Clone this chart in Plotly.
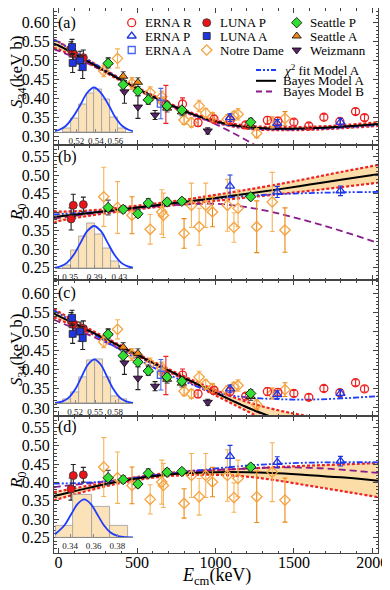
import plotly.graph_objects as go

SERIF = "Liberation Serif"

# ---------------- measured points (E in keV, S34 in keV b, R0) ----------------
erna_r_E = [684, 790, 889, 991, 1093, 1193, 1331, 1398, 1500, 1595, 1691, 1793, 1893, 1950]
erna_r_S = [0.385, 0.386, 0.337, 0.346, 0.343, 0.331, 0.343, 0.341, 0.338, 0.328, 0.351, 0.340, 0.366, 0.350]
erna_r_dS = [0.050, 0.016, 0.010, 0.010, 0.010, 0.008, 0.010, 0.010, 0.008, 0.008, 0.008, 0.008, 0.008, 0.008]

erna_p_E = [1093, 1394, 1797]
erna_p_S = [0.350, 0.335, 0.338]
erna_p_dS = [0.010, 0.010, 0.010]
erna_p_R = [0.471, 0.455, 0.458]
erna_p_dR = [0.030, 0.015, 0.013]

erna_a_E = [652]
erna_a_S = [0.387]
erna_a_dS = [0.040]

luna_p_E = [80, 94, 158]
luna_p_S = [0.530, 0.519, 0.508]
luna_p_dS = [0.020, 0.020, 0.020]
luna_p_R = [0.382, 0.419, 0.421]
luna_p_dR = [0.030, 0.030, 0.020]

luna_a_E = [86, 90, 137, 154]
luna_a_S = [0.536, 0.494, 0.500, 0.483]
luna_a_dS = [0.020, 0.025, 0.025, 0.030]

nd_E = [288, 376, 468, 584, 658, 668, 800, 847, 896, 938, 981, 1076, 1118, 1144, 1263, 1362, 1443]
nd_S = [0.473, 0.506, 0.440, 0.416, 0.405, 0.390, 0.344, 0.337, 0.381, 0.362, 0.351,
        0.346, 0.355, 0.359, 0.309, 0.338, 0.348]
nd_dS = [0.015, 0.025, 0.015, 0.015, 0.015, 0.015, 0.012, 0.012, 0.015, 0.012, 0.012,
         0.012, 0.012, 0.015, 0.012, 0.015, 0.018]
nd_R = [0.442, 0.413, 0.392, 0.354, 0.401, 0.392, 0.343, 0.419, 0.361, 0.419, 0.401,
        0.419, 0.359, 0.411, 0.361, 0.428, 0.352]
nd_dR = [0.080, 0.070, 0.050, 0.040, 0.060, 0.060, 0.040, 0.060, 0.050, 0.060, 0.040,
         0.070, 0.040, 0.050, 0.070, 0.080, 0.060]
# Notre Dame points drawn with the darker error bars in the figure
nd_dark = [0, 0, 1, 0, 0, 0, 1, 0, 0, 0, 1, 0, 0, 0, 1, 0, 1]

sea_E = [316, 412, 506, 572, 692, 786, 1225]
sea_p_S = [0.493, 0.437, 0.420, 0.397, 0.381, 0.370, 0.338]
sea_p_dS = [0.012, 0.012, 0.012, 0.012, 0.010, 0.010, 0.010]
sea_p_R = [0.413, 0.408, 0.396, 0.425, 0.428, 0.430, 0.442]
sea_p_dR = [0.020, 0.010, 0.010, 0.012, 0.010, 0.008, 0.008]
sea_a_S = [0.496, 0.459, 0.443, 0.400, 0.375, 0.365, 0.330]
sea_a_dS = [0.012, 0.012, 0.012, 0.012, 0.010, 0.010, 0.010]

wei_E = [420, 506, 615, 951]
wei_S = [0.418, 0.378, 0.357, 0.315]
wei_dS = [0.030, 0.030, 0.012, 0.008]

# ---------------- fitted curves, sampled on this energy grid ----------------
fit_E = [-30, 0, 200, 400, 600, 800, 1000, 1200, 1400, 1600, 1800, 2036]

bayes_a_a = [0.545, 0.540, 0.495, 0.449, 0.406, 0.368, 0.340, 0.325, 0.321, 0.322, 0.326, 0.333]
band_hi_a = [0.556, 0.550, 0.499, 0.452, 0.409, 0.371, 0.343, 0.329, 0.325, 0.326, 0.330, 0.338]
band_lo_a = [0.534, 0.530, 0.491, 0.446, 0.403, 0.365, 0.337, 0.321, 0.317, 0.318, 0.322, 0.328]
chi2_a = [0.555, 0.549, 0.499, 0.450, 0.405, 0.367, 0.338, 0.323, 0.319, 0.320, 0.324, 0.331]
bayes_b_a = [0.530, 0.526, 0.490, 0.449, 0.407, 0.369, 0.333, 0.290, 0.240, 0.190, 0.140, 0.080]

bayes_a_b = [0.387, 0.389, 0.398, 0.408, 0.418, 0.428, 0.439, 0.450, 0.462, 0.475, 0.488, 0.503]
band_hi_b = [0.403, 0.402, 0.405, 0.413, 0.423, 0.434, 0.447, 0.461, 0.476, 0.492, 0.509, 0.528]
band_lo_b = [0.371, 0.376, 0.391, 0.403, 0.413, 0.422, 0.431, 0.440, 0.449, 0.458, 0.468, 0.480]
chi2_b = [0.394, 0.395, 0.400, 0.408, 0.418, 0.428, 0.437, 0.444, 0.449, 0.452, 0.454, 0.455]
bayes_b_b = [0.383, 0.385, 0.396, 0.406, 0.415, 0.421, 0.423, 0.414, 0.397, 0.375, 0.350, 0.317]

bayes_a_c = [0.548, 0.541, 0.501, 0.460, 0.419, 0.379, 0.340, 0.302, 0.270, 0.240, 0.210, 0.180]
band_hi_c = [0.559, 0.552, 0.506, 0.463, 0.422, 0.383, 0.347, 0.316, 0.294, 0.278, 0.265, 0.250]
band_lo_c = [0.537, 0.532, 0.496, 0.457, 0.416, 0.375, 0.333, 0.292, 0.250, 0.210, 0.170, 0.120]
chi2_c = [0.555, 0.548, 0.499, 0.451, 0.407, 0.370, 0.340, 0.328, 0.323, 0.322, 0.325, 0.331]
bayes_b_c = [0.531, 0.526, 0.490, 0.453, 0.416, 0.378, 0.340, 0.302, 0.264, 0.226, 0.190, 0.140]

bayes_a_d = [0.363, 0.366, 0.386, 0.404, 0.417, 0.425, 0.428, 0.428, 0.425, 0.420, 0.414, 0.405]
band_hi_d = [0.374, 0.376, 0.392, 0.408, 0.421, 0.430, 0.434, 0.438, 0.442, 0.446, 0.449, 0.453]
band_lo_d = [0.351, 0.355, 0.379, 0.399, 0.413, 0.420, 0.421, 0.416, 0.405, 0.391, 0.377, 0.360]
chi2_d = [0.397, 0.397, 0.400, 0.408, 0.419, 0.429, 0.438, 0.446, 0.451, 0.454, 0.455, 0.455]
bayes_b_d = [0.387, 0.389, 0.398, 0.408, 0.419, 0.428, 0.434, 0.438, 0.441, 0.440, 0.435, 0.426]

# ---------------- inset histograms (posterior of the value at E=0) ----------------
hist_a_x = [0.5105, 0.5185, 0.5265, 0.5345, 0.5425, 0.5505, 0.5585, 0.5665]
hist_a_h = [0.09, 0.31, 0.63, 0.87, 0.96, 0.74, 0.33, 0.09]
gauss_a_x = [0.498, 0.502, 0.509, 0.516, 0.524, 0.531, 0.538, 0.545, 0.553, 0.560, 0.567, 0.574, 0.578]
gauss_a_y = [0.020, 0.044, 0.135, 0.325, 0.607, 0.882, 1.000, 0.882, 0.607, 0.325, 0.135, 0.044, 0.020]

hist_b_x = [0.3455, 0.3585, 0.3715, 0.3845, 0.3975, 0.4105, 0.4235]
hist_b_h = [0.08, 0.43, 0.75, 1.06, 0.81, 0.47, 0.16]
gauss_b_x = [0.326, 0.3345, 0.3454, 0.3563, 0.3672, 0.3781, 0.389, 0.3999, 0.4108, 0.4217, 0.4326, 0.4435, 0.452]
gauss_b_y = [0.015, 0.044, 0.135, 0.325, 0.607, 0.882, 1.000, 0.882, 0.607, 0.325, 0.135, 0.044, 0.015]

hist_c_x = [0.5085, 0.5205, 0.5325, 0.5445, 0.5565, 0.5685, 0.5805, 0.5925]
hist_c_h = [0.10, 0.26, 0.60, 0.98, 1.00, 0.60, 0.15, 0.10]
gauss_c_x = [0.490, 0.5015, 0.511, 0.5205, 0.530, 0.5395, 0.549, 0.5585, 0.568, 0.5775, 0.587, 0.5965, 0.607]
gauss_c_y = [0.010, 0.044, 0.135, 0.325, 0.607, 0.882, 1.000, 0.882, 0.607, 0.325, 0.135, 0.044, 0.011]

hist_d_x = [0.3358, 0.3505, 0.3660, 0.3815]
hist_d_h = [0.30, 1.12, 0.80, 0.30]
gauss_d_x = [0.3273, 0.3355, 0.341, 0.3465, 0.352, 0.3575, 0.363, 0.3685, 0.374, 0.3795, 0.385, 0.3933]
gauss_d_y = [0.080, 0.325, 0.607, 0.882, 1.000, 0.882, 0.607, 0.325, 0.135, 0.044, 0.011, 0.000]

# ---------------- styling ----------------
OFFSET = 8                                  # default body margin of the html page
W, H = 390 - OFFSET, 590 - OFFSET
PL, PR, PT, PB = 54, 378, 8, 553            # plot area in page pixels
X_RANGE = [-29, 2036]
FRAME = "#444444"
RED = "#EE2222"
BLUE = "#1F35E0"
ORANGE = "#F5A340"
ND_LIGHT = "#F7B25A"
ND_DARK = "#EC8712"
FIT_BLUE = "#1E3CFF"
FIT_PURPLE = "#8B1C8B"
BAND_FILL = "#FCDDA8"
HIST_FILL = "#FCE2B8"


def px_to_paper(px, py):
    """Convert a page pixel position to paper coordinates."""
    return (px - PL) / (PR - PL), (PB - py) / (PB - PT)


# panel boundaries in page pixels (top, bottom), y-ranges and inset geometry
PANEL_PIX = [(8, 145), (145, 280), (280, 416), (416, 553)]
PANEL_RANGE = [[0.278, 0.6387], [0.217, 0.582], [0.279, 0.635], [0.208, 0.581]]
INSET_PIX = [(76.4, 132), (215.4, 268.3), (348.3, 403.3), (489.8, 537.3)]
INSET_RANGE = [[0.498, 0.578], [0.3257, 0.452], [0.490, 0.607], [0.3273, 0.3933]]
INSET_TICKS = [[0.52, 0.54, 0.56], [0.35, 0.39, 0.43], [0.52, 0.55, 0.58], [0.34, 0.36, 0.38]]
INSET_BIN = [0.008, 0.013, 0.012, 0.0155]


def points(E, Y, dY, name, symbol, color, ecolor, outline=None, size=8, xa="x", ya="y"):
    """One data set with error bars."""
    line = dict(color=outline or color, width=0.8 if outline else 1.3)
    return go.Scatter(
        x=E, y=Y, mode="markers", name=name, showlegend=False, xaxis=xa, yaxis=ya,
        marker=dict(symbol=symbol, size=size, color=color, line=line),
        error_y=dict(type="data", array=dY, color=ecolor, thickness=1.1, width=2.5),
    )


def notre_dame(fig, Y, dY, kw):
    """Notre Dame data come in two shades of orange."""
    for flag, ecolor in [(0, ND_LIGHT), (1, ND_DARK)]:
        idx = [i for i, f in enumerate(nd_dark) if f == flag]
        fig.add_trace(points([nd_E[i] for i in idx], [Y[i] for i in idx], [dY[i] for i in idx],
                             "Notre Dame", "diamond-open", ORANGE, ecolor, **kw))


def add_panel(fig, k, hi, lo, bayes_a, chi2, bayes_b, quantity):
    """Band, fits and data for one panel (k = 1..4)."""
    xa = "x" if k == 1 else "x%d" % k
    ya = "y" if k == 1 else "y%d" % k
    fig.add_trace(go.Scatter(x=fit_E, y=lo, mode="lines", line=dict(width=0, shape="spline"),
                             showlegend=False, xaxis=xa, yaxis=ya, hoverinfo="skip"))
    fig.add_trace(go.Scatter(x=fit_E, y=hi, mode="lines", line=dict(width=0, shape="spline"),
                             fill="tonexty", fillcolor=BAND_FILL, showlegend=False,
                             xaxis=xa, yaxis=ya, hoverinfo="skip"))
    for edge in (lo, hi):
        fig.add_trace(go.Scatter(x=fit_E, y=edge, mode="lines", showlegend=False, xaxis=xa, yaxis=ya,
                                 line=dict(color=RED, width=2.2, dash="3px,2px", shape="spline")))
    fig.add_trace(go.Scatter(x=fit_E, y=bayes_b, mode="lines", showlegend=False, xaxis=xa, yaxis=ya,
                             line=dict(color=FIT_PURPLE, width=1.8, dash="7px,4px", shape="spline")))
    fig.add_trace(go.Scatter(x=fit_E, y=chi2, mode="lines", showlegend=False, xaxis=xa, yaxis=ya,
                             line=dict(color=FIT_BLUE, width=1.8, dash="6px,2px,2px,2px,2px,2px",
                                       shape="spline")))
    fig.add_trace(go.Scatter(x=fit_E, y=bayes_a, mode="lines", showlegend=False, xaxis=xa, yaxis=ya,
                             line=dict(color="black", width=2, shape="spline")))

    kw = dict(xa=xa, ya=ya)
    if quantity == "S":
        notre_dame(fig, nd_S, nd_dS, kw)
        fig.add_trace(points(erna_r_E, erna_r_S, erna_r_dS, "ERNA R", "circle-open", RED, RED, **kw))
        fig.add_trace(points(erna_a_E, erna_a_S, erna_a_dS, "ERNA A", "square-open", "#4466EE", "#4466EE", size=7, **kw))
        fig.add_trace(points(erna_p_E, erna_p_S, erna_p_dS, "ERNA P", "triangle-up-open", BLUE, BLUE, **kw))
        fig.add_trace(points(wei_E, wei_S, wei_dS, "Weizmann", "triangle-down", "#5A2468", "#222222", "black", **kw))
        fig.add_trace(points(sea_E, sea_a_S, sea_a_dS, "Seattle A", "triangle-up", "#F08A1A", "#555555", "black", **kw))
        fig.add_trace(points(sea_E, sea_p_S, sea_p_dS, "Seattle P", "diamond", "#33DD33", "#555555", "black", **kw))
        fig.add_trace(points(luna_p_E, luna_p_S, luna_p_dS, "LUNA P", "circle", "#E8141A", "#222222", "#333333", **kw))
        fig.add_trace(points(luna_a_E, luna_a_S, luna_a_dS, "LUNA A", "square", BLUE, "#222222", "#222222", size=7, **kw))
    else:
        notre_dame(fig, nd_R, nd_dR, kw)
        fig.add_trace(points(erna_p_E, erna_p_R, erna_p_dR, "ERNA P", "triangle-up-open", BLUE, BLUE, **kw))
        fig.add_trace(points(sea_E, sea_p_R, sea_p_dR, "Seattle P", "diamond", "#33DD33", "#555555", "black", **kw))
        fig.add_trace(points(luna_p_E, luna_p_R, luna_p_dR, "LUNA P", "circle", "#E8141A", "#222222", "#333333", **kw))


def add_inset(fig, k, hx, hh, gx, gy):
    """Histogram with gaussian, placed in the lower left of panel k-4."""
    xa, ya = "x%d" % k, "y%d" % k
    fig.add_trace(go.Bar(x=hx, y=hh, width=INSET_BIN[k - 5], xaxis=xa, yaxis=ya, showlegend=False,
                         marker=dict(color=HIST_FILL, line=dict(color="#9A9A9A", width=0.8))))
    fig.add_trace(go.Scatter(x=gx, y=gy, mode="lines", xaxis=xa, yaxis=ya, showlegend=False,
                             line=dict(color=FIT_BLUE, width=1.8, shape="spline")))


def axis_style(**kw):
    base = dict(showline=True, linecolor=FRAME, linewidth=1, mirror="allticks", ticks="inside",
                ticklen=5, tickcolor=FRAME, tickwidth=1, showgrid=False, zeroline=False,
                tickfont=dict(family=SERIF, size=16, color="black"))
    base.update(kw)
    return base


def build_layout():
    layout = dict(width=W, height=H,
                  margin=dict(l=PL - OFFSET, r=W + OFFSET - PR, t=PT - OFFSET, b=H + OFFSET - PB),
                  paper_bgcolor="white", plot_bgcolor="rgba(0,0,0,0)", bargap=0,
                  font=dict(family=SERIF, color="black"))
    for k in range(1, 5):
        top, bot = PANEL_PIX[k - 1]
        d0, d1 = px_to_paper(PL, bot)[1], px_to_paper(PL, top)[1]
        sx = "" if k == 1 else str(k)
        xa = axis_style(
            domain=[0, 1], range=X_RANGE, tick0=0, dtick=500, anchor="y" + sx,
            showticklabels=(k == 4), ticklabelstandoff=-5,
            minor=dict(ticks="inside", ticklen=2.5, tickcolor=FRAME, dtick=100),
        )
        if k > 1:
            xa["matches"] = "x"
        layout["xaxis" + sx] = xa
        layout["yaxis" + sx] = axis_style(
            domain=[max(d0, 0), min(d1, 1)], range=PANEL_RANGE[k - 1], tick0=0, dtick=0.05,
            tickformat=".2f", anchor="x" + sx,
            minor=dict(ticks="inside", ticklen=2.5, tickcolor=FRAME, dtick=0.01),
        )
    for k in range(5, 9):
        top, bot = INSET_PIX[k - 5]
        x0, y0 = px_to_paper(55, bot)
        x1, y1 = px_to_paper(133, top)
        layout["xaxis%d" % k] = dict(
            domain=[x0, x1], range=INSET_RANGE[k - 5], anchor="y%d" % k, showgrid=False,
            zeroline=False, showline=True, linecolor="#8A8A8A", linewidth=1,
            tickvals=INSET_TICKS[k - 5], tickformat=".2f", ticks="inside", ticklen=3, tickangle=0,
            tickcolor="#8A8A8A", tickfont=dict(family=SERIF, size=9, color="#222222"),
        )
        layout["yaxis%d" % k] = dict(domain=[y0, y1], range=[0, 1.25], anchor="x%d" % k, visible=False)
    # helper axes in page pixels, used only for the hand-placed legend keys
    layout["xaxis9"] = dict(domain=[0, 1], range=[PL, PR], anchor="y9", visible=False)
    layout["yaxis9"] = dict(domain=[0, 1], range=[PB, PT], anchor="x9", visible=False)
    return layout


def add_legend(fig, annotations):
    """Three columns of marker keys plus three line keys, as in the figure."""
    keys = [
        ("ERNA R", 131.7, 22.7, dict(symbol="circle-open", color=RED, size=8, line=dict(color=RED, width=1.3))),
        ("ERNA P", 131.7, 36.0, dict(symbol="triangle-up-open", color=BLUE, size=8, line=dict(color=BLUE, width=1.3))),
        ("ERNA A", 131.7, 50.0, dict(symbol="square-open", color="#4466EE", size=7, line=dict(color="#4466EE", width=1.3))),
        ("LUNA P", 206.7, 22.7, dict(symbol="circle", color="#E8141A", size=8, line=dict(color="#333333", width=0.8))),
        ("LUNA A", 206.7, 36.0, dict(symbol="square", color=BLUE, size=7, line=dict(color="#222222", width=0.8))),
        ("Notre Dame", 206.7, 50.0, dict(symbol="diamond-open", color=ORANGE, size=8, line=dict(color=ORANGE, width=1.3))),
        ("Seattle P", 296.7, 22.7, dict(symbol="diamond", color="#33DD33", size=8, line=dict(color="black", width=0.8))),
        ("Seattle A", 296.7, 36.0, dict(symbol="triangle-up", color="#F08A1A", size=8, line=dict(color="black", width=0.8))),
        ("Weizmann", 296.7, 50.0, dict(symbol="triangle-down", color="#5A2468", size=8, line=dict(color="black", width=0.8))),
    ]
    for label, kx, ky, marker in keys:
        fig.add_trace(go.Scatter(x=[kx], y=[ky], mode="markers", marker=marker, xaxis="x9", yaxis="y9",
                                 showlegend=False, hoverinfo="skip"))
        tx, ty = px_to_paper(kx + 11, ky)
        annotations.append(dict(x=tx, y=ty, xref="paper", yref="paper", text=label, showarrow=False,
                                xanchor="left", yanchor="middle", font=dict(family=SERIF, size=13)))
    lines = [
        ("<i>χ</i><sup>2</sup> fit Model A", 70.0, dict(color=FIT_BLUE, width=1.8, dash="5px,2px,2px,2px,2px,2px")),
        ("Bayes Model A", 80.8, dict(color="black", width=2)),
        ("Bayes Model B", 91.5, dict(color=FIT_PURPLE, width=1.8, dash="6px,4px")),
    ]
    for label, ky, line in lines:
        fig.add_trace(go.Scatter(x=[256, 276], y=[ky, ky], mode="lines", line=line, xaxis="x9", yaxis="y9",
                                 showlegend=False, hoverinfo="skip"))
        tx, ty = px_to_paper(281, ky)
        annotations.append(dict(x=tx, y=ty, xref="paper", yref="paper", text=label, showarrow=False,
                                xanchor="left", yanchor="middle", font=dict(family=SERIF, size=13)))


def main():
    fig = go.Figure()
    add_panel(fig, 1, band_hi_a, band_lo_a, bayes_a_a, chi2_a, bayes_b_a, "S")
    add_panel(fig, 2, band_hi_b, band_lo_b, bayes_a_b, chi2_b, bayes_b_b, "R")
    add_panel(fig, 3, band_hi_c, band_lo_c, bayes_a_c, chi2_c, bayes_b_c, "S")
    add_panel(fig, 4, band_hi_d, band_lo_d, bayes_a_d, chi2_d, bayes_b_d, "R")
    add_inset(fig, 5, hist_a_x, hist_a_h, gauss_a_x, gauss_a_y)
    add_inset(fig, 6, hist_b_x, hist_b_h, gauss_b_x, gauss_b_y)
    add_inset(fig, 7, hist_c_x, hist_c_h, gauss_c_x, gauss_c_y)
    add_inset(fig, 8, hist_d_x, hist_d_h, gauss_d_x, gauss_d_y)

    annotations = []
    add_legend(fig, annotations)

    # panel tags
    for tag, py in [("(a)", 22.7), ("(b)", 157), ("(c)", 293.3), ("(d)", 427.3)]:
        tx, ty = px_to_paper(56, py)
        annotations.append(dict(x=tx, y=ty, xref="paper", yref="paper", text=tag, showarrow=False,
                                xanchor="left", yanchor="middle", font=dict(family=SERIF, size=16)))
    # axis titles
    s_title = "<i>S</i><sub>34</sub>(keV b)"
    r_title = "<i>R</i><sub>0</sub>"
    for text, py in [(s_title, 72), (r_title, 213), (s_title, 350), (r_title, 481)]:
        tx, ty = px_to_paper(18, py)
        annotations.append(dict(x=tx, y=ty, xref="paper", yref="paper", text=text, showarrow=False,
                                textangle=-90, xanchor="center", yanchor="middle",
                                font=dict(family=SERIF, size=17)))
    tx, ty = px_to_paper(216, 576)
    annotations.append(dict(x=tx, y=ty, xref="paper", yref="paper", text="<i>E</i><sub>cm</sub>(keV)",
                            showarrow=False, xanchor="center", yanchor="middle",
                            font=dict(family=SERIF, size=18)))

    layout = build_layout()
    layout["annotations"] = annotations
    fig.update_layout(**layout)
    fig.write_html("out.html")


if __name__ == "__main__":
    main()
